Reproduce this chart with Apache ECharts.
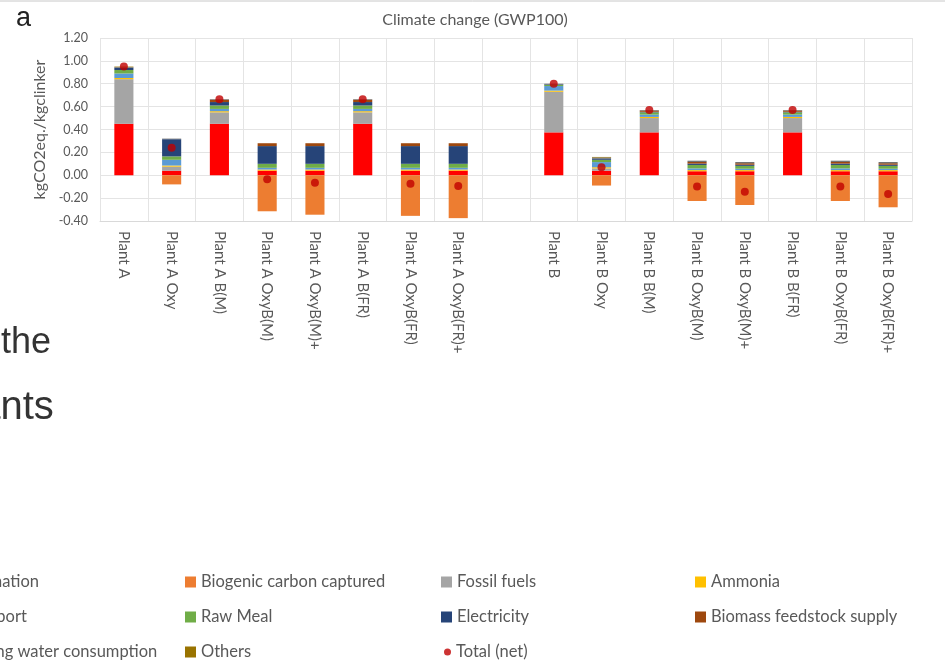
<!DOCTYPE html>
<html>
<head>
<meta charset="utf-8">
<script src="https://cdn.jsdelivr.net/npm/echarts@6/dist/echarts.min.js"></script>
<style>
  html, body { margin: 0; padding: 0; background: #ffffff; }
  #chart { width: 950px; height: 662px; }
</style>
</head>
<body>
<div id="chart"></div>
<script>
// Scenario categories (empty slot separates the two plants)
const categories = [
  'Plant A', 'Plant A Oxy', 'Plant A B(M)', 'Plant A OxyB(M)', 'Plant A OxyB(M)+',
  'Plant A B(FR)', 'Plant A OxyB(FR)', 'Plant A OxyB(FR)+', '',
  'Plant B', 'Plant B Oxy', 'Plant B B(M)', 'Plant B OxyB(M)', 'Plant B OxyB(M)+',
  'Plant B B(FR)', 'Plant B OxyB(FR)', 'Plant B OxyB(FR)+'
];

// Contributions, kgCO2eq./kgclinker
const calcination = [0.45, 0.04, 0.45, 0.04, 0.04, 0.45, 0.04, 0.04, null, 0.375, 0.04, 0.375, 0.035, 0.035, 0.375, 0.035, 0.035];
const biogenicCaptured = [0, -0.08, 0, -0.315, -0.345, 0, -0.355, -0.375, null, 0, -0.09, 0, -0.225, -0.26, 0, -0.225, -0.28];
const fossilFuels = [0.39, 0.035, 0.10, 0, 0, 0.10, 0, 0, null, 0.355, 0.02, 0.125, 0, 0, 0.125, 0, 0];
const ammonia = [0.01, 0.01, 0.01, 0.01, 0.01, 0.01, 0.01, 0.01, null, 0.01, 0.01, 0.01, 0.01, 0.01, 0.01, 0.01, 0.01];
const transport = [0.04, 0.05, 0.02, 0.015, 0.015, 0.02, 0.015, 0.015, null, 0.04, 0.045, 0.02, 0.015, 0.012, 0.02, 0.015, 0.012];
const rawMeal = [0.03, 0.03, 0.03, 0.035, 0.035, 0.03, 0.035, 0.035, null, 0.01, 0.02, 0.02, 0.03, 0.025, 0.02, 0.03, 0.025];
const electricity = [0.02, 0.15, 0.03, 0.155, 0.155, 0.03, 0.155, 0.155, null, 0.005, 0.01, 0.005, 0.012, 0.01, 0.005, 0.012, 0.01];
const biomassSupply = [0, 0, 0.02, 0.025, 0.025, 0.02, 0.025, 0.025, null, 0, 0, 0.01, 0.015, 0.013, 0.01, 0.015, 0.013];
const coolingWater = [0.005, 0.005, 0.005, 0, 0, 0.005, 0, 0, null, 0.005, 0.01, 0.005, 0.01, 0.01, 0.005, 0.01, 0.01];
const others = [0.005, 0, 0, 0, 0, 0, 0, 0, null, 0, 0.005, 0, 0, 0, 0, 0, 0];
const totalNet = [0.95, 0.24, 0.665, -0.035, -0.065, 0.665, -0.075, -0.095, null, 0.80, 0.07, 0.57, -0.098, -0.145, 0.57, -0.098, -0.165];

// Y axis ticks
const yMin = -0.4, yMax = 1.2, yStep = 0.2;

const stackDefs = [
  { name: 'Calcination', data: calcination, color: '#FF0000' },
  { name: 'Biogenic carbon captured', data: biogenicCaptured, color: '#ED7D31' },
  { name: 'Fossil fuels', data: fossilFuels, color: '#A5A5A5' },
  { name: 'Ammonia', data: ammonia, color: '#FFC000' },
  { name: 'Transport', data: transport, color: '#5B9BD5' },
  { name: 'Raw Meal', data: rawMeal, color: '#70AD47' },
  { name: 'Electricity', data: electricity, color: '#264478' },
  { name: 'Biomass feedstock supply', data: biomassSupply, color: '#9E480E' },
  { name: 'Cooling water consumption', data: coolingWater, color: '#636363' },
  { name: 'Others', data: others, color: '#997300' }
];

const series = stackDefs.map(d => ({
  name: d.name,
  type: 'bar',
  stack: 'impact',
  barWidth: '40%',
  data: d.data,
  itemStyle: { color: d.color },
  emphasis: { disabled: true }
}));
series.push({
  name: 'Total (net)',
  type: 'scatter',
  data: totalNet,
  symbol: 'circle',
  symbolSize: 8,
  itemStyle: { color: '#C00000' },
  z: 5
});

const legendText = { color: '#595959', fontSize: 16.5, lineHeight: 20, fontFamily: 'Lato' };
function legendColumn(names, left, top, size) {
  return {
    orient: 'vertical',
    left: left,
    top: top,
    height: 662 - top,
    padding: 0,
    itemWidth: size,
    itemHeight: size,
    itemGap: 15,
    icon: 'rect',
    textStyle: legendText,
    selectedMode: false,
    data: names
  };
}

const chart = echarts.init(document.getElementById('chart'));
chart.setOption({
  animation: false,
  backgroundColor: '#ffffff',
  title: {
    text: 'Climate change (GWP100)',
    left: 470,
    top: 7,
    textAlign: 'center',
    textStyle: { color: '#595959', fontSize: 16, fontWeight: 'normal', fontFamily: 'Lato' }
  },
  grid: { left: 100, right: 38, top: 38, bottom: 441, containLabel: false },
  legend: [
    legendColumn(['Calcination', 'Transport', 'Cooling water consumption'], -58, 572, 11),
    legendColumn(['Biogenic carbon captured', 'Raw Meal', 'Others'], 185, 572, 11),
    legendColumn(['Fossil fuels', 'Electricity'], 441, 572, 11),
    Object.assign(legendColumn([{ name: 'Total (net)', icon: 'circle' }], 444, 642, 7), { itemGap: 6 }),
    legendColumn(['Ammonia', 'Biomass feedstock supply'], 695, 572, 11)
  ],
  xAxis: {
    type: 'category',
    data: categories,
    axisLine: { onZero: false, lineStyle: { color: '#D9D9D9' } },
    axisTick: { show: false },
    splitLine: { show: true, lineStyle: { color: '#E4E4E4' } },
    axisLabel: {
      rotate: -90,
      interval: 0,
      margin: 10,
      color: '#595959',
      fontSize: 15,
      fontFamily: 'Lato'
    }
  },
  yAxis: {
    type: 'value',
    min: yMin,
    max: yMax,
    interval: yStep,
    name: 'kgCO2eq./kgclinker',
    nameLocation: 'middle',
    nameRotate: 90,
    nameGap: 45,
    nameTextStyle: { color: '#595959', fontSize: 16, fontFamily: 'Lato' },
    axisLine: { show: false },
    axisTick: { show: false },
    splitLine: { lineStyle: { color: '#E4E4E4' } },
    axisLabel: {
      color: '#595959',
      fontSize: 12.5,
      fontFamily: 'Lato',
      margin: 12,
      formatter: v => v.toFixed(2)
    }
  },
  graphic: [
    { type: 'line', shape: { x1: 0, y1: 1, x2: 945, y2: 1 }, style: { stroke: '#C8C8C8', lineWidth: 1 } },
    { type: 'text', left: 16, top: 5, style: { text: 'a', fontSize: 27, fontFamily: 'Liberation Sans', fill: '#222222' } },
    { type: 'text', left: 1, top: 325, style: { text: 'the', fontSize: 36, fontFamily: 'Liberation Sans', fill: '#333333' } },
    { type: 'text', x: -53, y: 388, style: { text: 'plants', fontSize: 40, fontFamily: 'Liberation Sans', fill: '#333333' } }
  ],
  series: series
});
</script>
</body>
</html>
